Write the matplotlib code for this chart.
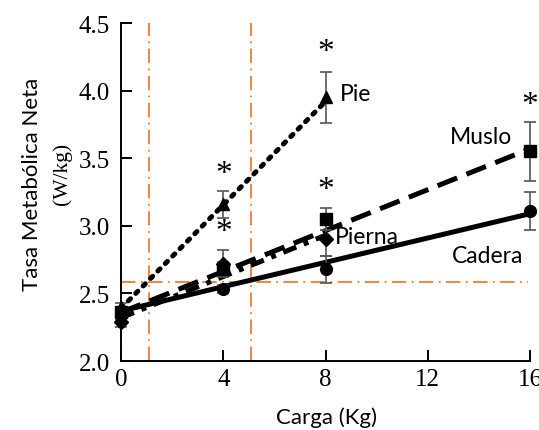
import matplotlib
matplotlib.use("Agg")
import matplotlib.pyplot as plt

# ---- data ----
x_ticks = [0, 4, 8, 12, 16]
y_ticks = [2.0, 2.5, 3.0, 3.5, 4.0, 4.5]

pie_x = [0, 4, 8]
pie_y = [2.40, 3.16, 3.95]
pie_err = [0.03, 0.10, 0.19]
pie_fit_x = [0, 8]
pie_fit_y = [2.39, 3.92]

muslo_x = [0, 4, 8, 16]
muslo_y = [2.36, 2.68, 3.05, 3.55]
muslo_err = [0.03, 0.05, 0.08, 0.22]
muslo_fit_x = [0, 16]
muslo_fit_y = [2.36, 3.57]

pierna_x = [0, 4, 8]
pierna_y = [2.29, 2.72, 2.90]
pierna_err = [0.04, 0.10, 0.12]
pierna_fit_x = [0, 8]
pierna_fit_y = [2.32, 2.93]

cadera_x = [0, 4, 8, 16]
cadera_y = [2.34, 2.53, 2.68, 3.11]
cadera_err = [0.04, 0.03, 0.10, 0.14]
cadera_fit_x = [0, 16]
cadera_fit_y = [2.37, 3.09]

ref_vlines = [1.1, 5.1]
ref_hline = 2.585

star_x = [4, 4, 8, 8, 16]
star_y = [3.41, 2.98, 4.31, 3.29, 3.92]

labels = ["Pie", "Muslo", "Pierna", "Cadera"]
label_x = [8.55, 12.85, 8.36, 12.93]
label_y = [3.98, 3.66, 2.92, 2.78]

# ---- figure ----
fig = plt.figure(figsize=(5.39, 4.31), dpi=100)
ax = fig.add_axes([0.2245, 0.160, 0.7588, 0.7842])

orange = "#ED7D31"
for xv in ref_vlines:
    ax.axvline(xv, color=orange, lw=1.3, linestyle=(0, (8, 3, 1, 3)), zorder=1)
ax.axhline(ref_hline, xmax=0.995, color=orange, lw=1.3, linestyle=(0, (8, 3, 1, 3)), zorder=1)

# fit lines
ax.plot(pie_fit_x, pie_fit_y, color="black", lw=3.6,
        linestyle=(0, (0.6, 1.5)), dash_capstyle="round", zorder=3)
ax.plot(muslo_fit_x, muslo_fit_y, color="black", lw=3.6,
        linestyle=(0, (4.2, 2.0)), zorder=3)
ax.plot(pierna_fit_x, pierna_fit_y, color="black", lw=3.6,
        linestyle=(0, (2.8, 1.6, 1, 1.6)), zorder=3)
ax.plot(cadera_fit_x, cadera_fit_y, color="black", lw=3.6,
        linestyle="-", zorder=3)

ekw = dict(fmt="none", ecolor="#555555", elinewidth=1.2, capsize=4, capthick=1.2, zorder=4, clip_on=False)
ax.errorbar(pie_x, pie_y, yerr=pie_err, **ekw)
ax.errorbar(muslo_x, muslo_y, yerr=muslo_err, **ekw)
ax.errorbar(pierna_x, pierna_y, yerr=pierna_err, **ekw)
ax.errorbar(cadera_x, cadera_y, yerr=cadera_err, **ekw)

mkw = dict(color="black", linestyle="none", zorder=5, clip_on=False)
ax.plot(pie_x, pie_y, marker="^", ms=9, **mkw)
ax.plot(muslo_x, muslo_y, marker="s", ms=8, **mkw)
ax.plot(pierna_x, pierna_y, marker="D", ms=7, **mkw)
ax.plot(cadera_x, cadera_y, marker="o", ms=8.5, **mkw)

for sx, sy in zip(star_x, star_y):
    ax.text(sx, sy, "*", fontsize=24, family="Liberation Serif",
            ha="center", va="center_baseline", zorder=6)

for t, lx, ly in zip(labels, label_x, label_y):
    ax.text(lx, ly, t, fontsize=16.5, family="Lato", ha="left", va="center", zorder=6)

ax.set_xlim(0, 16)
ax.set_ylim(2.0, 4.5)
ax.set_xticks(x_ticks)
ax.set_xticklabels([str(v) for v in x_ticks])
ax.set_yticks(y_ticks)
ax.set_yticklabels([f"{v:.1f}" for v in y_ticks])
for s in ["top", "right"]:
    ax.spines[s].set_visible(False)
for s in ["left", "bottom"]:
    ax.spines[s].set_linewidth(1.4)
ax.tick_params(axis="both", direction="in", length=8, width=1.4,
               labelsize=18)
ax.tick_params(axis="x", pad=5)
ax.tick_params(axis="y", pad=8)
for lab in ax.get_xticklabels() + ax.get_yticklabels():
    lab.set_family("Liberation Serif")

fig.text(327 / 539, 1 - 418 / 431, "Carga (Kg)", fontsize=16, family="Lato",
         ha="center", va="center")
fig.text(32 / 539, 1 - 184 / 431, "Tasa Metabólica Neta", fontsize=16, family="Lato",
         rotation=90, ha="center", va="center")
fig.text(62 / 539, 1 - 174 / 431, "(W/kg)", fontsize=15.5, family="Liberation Serif",
         rotation=90, ha="center", va="center")

fig.savefig("out.png", dpi=100)
